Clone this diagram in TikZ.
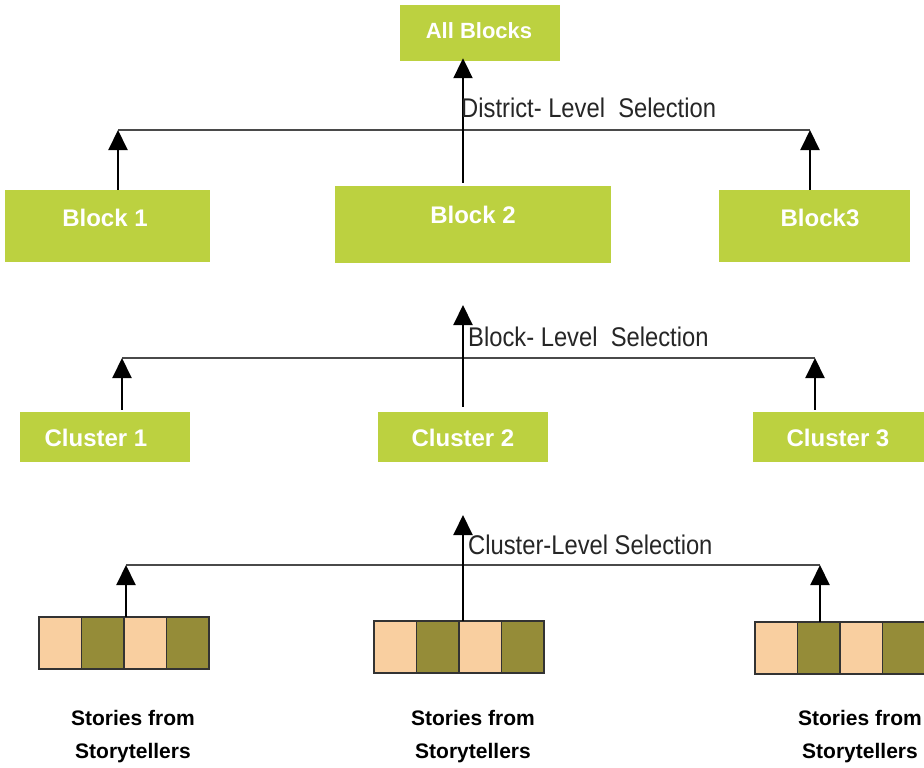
\documentclass[tikz,border=0pt]{standalone}
\usepackage{fontspec}
\setmainfont{Liberation Sans}
\newfontfamily\narrowfont[FakeStretch=0.88]{Liberation Sans}
\usetikzlibrary{arrows.meta}
\definecolor{lime}{HTML}{BCD140}
\definecolor{peach}{HTML}{F9CFA0}
\definecolor{olive}{HTML}{958C38}
\definecolor{hline}{HTML}{4A4A4A}
\tikzset{
  gbox/.style={fill=lime, draw=none, inner sep=0pt},
  gtext/.style={text=white, font=\bfseries\fontsize{24}{28}\selectfont, inner sep=0pt},
  seltext/.style={font=\narrowfont\fontsize{27}{30}\selectfont, anchor=west, inner sep=0pt, text=black!85},
  arr/.style={line width=2pt, -{Triangle[width=19pt,length=20pt]}},
  hl/.style={line width=1.8pt, draw=hline},
  cell/.style={draw=black!80, line width=1.5pt, minimum width=42.5pt, minimum height=52pt, inner sep=0pt, outer sep=0pt},
  stext/.style={font=\bfseries\fontsize{21}{33}\selectfont, align=center, inner sep=0pt},
}
\begin{document}
\begin{tikzpicture}[x=1pt,y=-1pt]
\useasboundingbox (0,0) rectangle (924,768);
\fill[white] (0,0) rectangle (924,768);
\clip (0,0) rectangle (924,768);

% top level
\node[gbox, minimum width=160pt, minimum height=56pt] (all) at (480,33) {};
\node[gtext, font=\bfseries\fontsize{22}{26}\selectfont] (allt) at (479,31) {All Blocks};

\node[gbox, minimum width=205pt, minimum height=72pt] (b1) at (107.5,226) {};
\node[gtext] (b1t) at (105,218) {Block 1};
\node[gbox, minimum width=276pt, minimum height=77pt] (b2) at (473,224.5) {};
\node[gtext] (b2t) at (473,215) {Block 2};
\node[gbox, minimum width=191pt, minimum height=72pt] (b3) at (814.5,226) {};
\node[gtext] (b3t) at (820,218) {Block3};

\coordinate (l1a) at (118,130);
\coordinate (l1b) at (810,130);
\coordinate (m1) at (463,130);
\draw[hl] (l1a) -- (l1b);
\draw[arr] (b1.north -| l1a) -- (l1a);
\draw[arr] (b3.north -| l1b) -- (l1b);
\draw[arr] (b2.north -| m1) ++(0,-3) -- ([yshift=3pt]all.south -| m1);
\node[seltext] (sel1) at (461,108) {District-\ Level\ \ Selection};

% cluster level
\node[gbox, minimum width=170pt, minimum height=50pt] (c1) at (105,437) {};
\node[gtext] (c1t) at (96,438) {Cluster 1};
\node[gbox, minimum width=170pt, minimum height=50pt] (c2) at (463,437) {};
\node[gtext] (c2t) at (463,438) {Cluster 2};
\node[gbox, minimum width=171pt, minimum height=50pt] (c3) at (838.5,437) {};
\node[gtext] (c3t) at (838,438) {Cluster 3};

\coordinate (l2a) at (122,358);
\coordinate (l2b) at (815,358);
\coordinate (t2) at (463,305);
\draw[hl] (l2a) -- (l2b);
\draw[arr] ([yshift=2pt]c1.north -| l2a) -- (l2a);
\draw[arr] ([yshift=2pt]c3.north -| l2b) -- (l2b);
\draw[arr] ([yshift=5pt]c2.north -| t2) -- (t2);
\node[seltext] (sel2) at (468,337) {Block-\ Level\ \ Selection};

% stories
\foreach \nm/\x/\y in {sa/39/617, sb/374/621, sc/755/622}{
  \node[cell, fill=peach, anchor=north west] (\nm1) at (\x,\y) {};
  \node[cell, fill=olive, anchor=north west] (\nm2) at (\nm1.north east) {};
  \node[cell, fill=peach, anchor=north west] (\nm3) at (\nm2.north east) {};
  \node[cell, fill=olive, anchor=north west] (\nm4) at (\nm3.north east) {};
}
\coordinate (l3a) at (126,565);
\coordinate (l3b) at (820,565);
\coordinate (t3) at (463,515);
\draw[hl] (l3a) -- (l3b);
\draw[arr] (sa2.north -| l3a) -- (l3a);
\draw[arr] (sc2.north -| l3b) -- (l3b);
\draw[arr] (sb2.north -| t3) -- (t3);
\node[seltext] (sel3) at (468,545) {Cluster-Level\ Selection};

\node[stext] (st1) at (133,737) {Stories from\\Storytellers};
\node[stext] (st2) at (473,737) {Stories from\\Storytellers};
\node[stext] (st3) at (860,737) {Stories from\\Storytellers};
\end{tikzpicture}
\end{document}
